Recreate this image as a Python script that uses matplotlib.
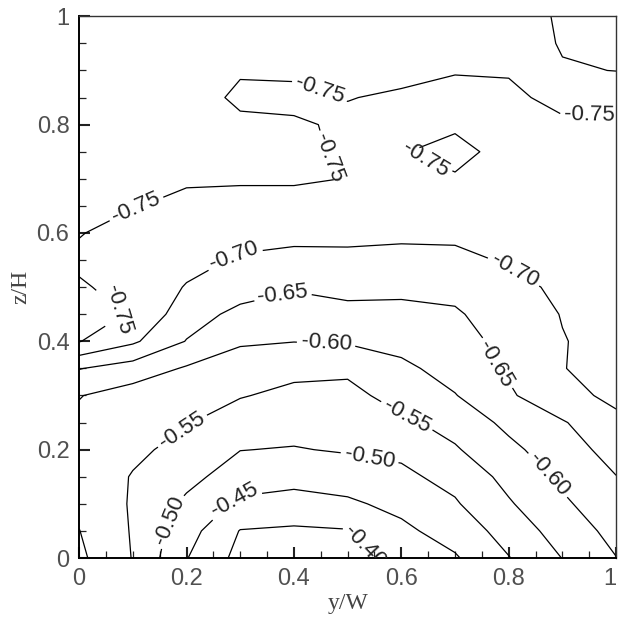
import numpy as np
import matplotlib
matplotlib.use('Agg')
import matplotlib.pyplot as plt
from matplotlib.ticker import MultipleLocator, FuncFormatter

# grid of the measurement plane (y/W across, z/H up)
y_pos = [0.0, 0.1, 0.2, 0.3, 0.4, 0.5, 0.6, 0.7, 0.8, 0.9, 1.0]
z_pos = [0.0, 0.05, 0.10, 0.15, 0.20, 0.25, 0.30, 0.35, 0.40, 0.45, 0.50,
         0.55, 0.60, 0.65, 0.70, 0.75, 0.80, 0.85, 0.90, 0.95, 1.0]

# pressure coefficient, one row per z/H level
cp_rows = [
    [-0.610, -0.548, -0.452, -0.385, -0.370, -0.375, -0.425, -0.445, -0.498, -0.551, -0.599],
    [-0.601, -0.546, -0.470, -0.398, -0.392, -0.397, -0.440, -0.470, -0.520, -0.572, -0.615],
    [-0.590, -0.545, -0.490, -0.440, -0.435, -0.443, -0.462, -0.495, -0.545, -0.592, -0.632],
    [-0.585, -0.547, -0.515, -0.475, -0.463, -0.470, -0.490, -0.515, -0.565, -0.610, -0.649],
    [-0.585, -0.560, -0.535, -0.501, -0.497, -0.505, -0.510, -0.545, -0.588, -0.628, -0.668],
    [-0.590, -0.573, -0.553, -0.525, -0.520, -0.523, -0.540, -0.568, -0.612, -0.645, -0.695],
    [-0.602, -0.578, -0.575, -0.553, -0.538, -0.535, -0.570, -0.598, -0.642, -0.693, -0.705],
    [-0.652, -0.628, -0.595, -0.575, -0.563, -0.560, -0.590, -0.618, -0.658, -0.699, -0.712],
    [-0.752, -0.708, -0.648, -0.606, -0.601, -0.605, -0.615, -0.632, -0.664, -0.698, -0.716],
    [-0.775, -0.745, -0.672, -0.637, -0.625, -0.635, -0.638, -0.645, -0.672, -0.702, -0.720],
    [-0.755, -0.735, -0.697, -0.672, -0.655, -0.665, -0.660, -0.662, -0.685, -0.710, -0.724],
    [-0.742, -0.725, -0.715, -0.695, -0.688, -0.688, -0.685, -0.688, -0.705, -0.718, -0.728],
    [-0.752, -0.735, -0.725, -0.715, -0.712, -0.713, -0.710, -0.710, -0.718, -0.725, -0.732],
    [-0.765, -0.752, -0.740, -0.735, -0.732, -0.732, -0.728, -0.728, -0.728, -0.732, -0.736],
    [-0.770, -0.765, -0.755, -0.755, -0.756, -0.749, -0.743, -0.748, -0.736, -0.738, -0.740],
    [-0.772, -0.770, -0.763, -0.765, -0.762, -0.742, -0.749, -0.756, -0.743, -0.742, -0.744],
    [-0.772, -0.771, -0.767, -0.758, -0.755, -0.744, -0.742, -0.747, -0.745, -0.746, -0.746],
    [-0.773, -0.772, -0.770, -0.742, -0.740, -0.751, -0.746, -0.745, -0.745, -0.757, -0.758],
    [-0.774, -0.773, -0.771, -0.754, -0.757, -0.762, -0.758, -0.751, -0.752, -0.795, -0.801],
    [-0.775, -0.774, -0.772, -0.765, -0.765, -0.767, -0.766, -0.762, -0.765, -0.805, -0.812],
    [-0.775, -0.775, -0.773, -0.770, -0.770, -0.772, -0.772, -0.768, -0.778, -0.806, -0.820],
]

levels = [-0.80, -0.75, -0.70, -0.65, -0.60, -0.55, -0.50, -0.45, -0.40]

# where the labels sit on the lines
label_spots = [
    (0.11, 0.635), (0.07, 0.455), (0.45, 0.868), (0.47, 0.74), (0.64, 0.725),
    (0.95, 0.826), (0.29, 0.555), (0.81, 0.53), (0.38, 0.485), (0.78, 0.36),
    (0.46, 0.395), (0.87, 0.15), (0.19, 0.238), (0.61, 0.262), (0.165, 0.07),
    (0.54, 0.18), (0.29, 0.105), (0.53, 0.02),
]

plt.rcParams['font.family'] = ['Liberation Sans', 'DejaVu Sans']

fig = plt.figure(figsize=(6.18, 6.17), dpi=100)
ax = fig.add_axes([0.128, 0.0956, 0.869, 0.878])

Y, Z = np.meshgrid(y_pos, z_pos)
cp = np.array(cp_rows)
cs = ax.contour(Y, Z, cp, levels=levels, colors='black', linewidths=0.9,
                linestyles='solid')
labels = ax.clabel(cs, fmt='%.2f', fontsize=16, inline=True,
                   inline_spacing=4, manual=label_spots)
for t in labels:
    t.set_color('#222222')

ax.set_xlim(0, 1)
ax.set_ylim(0, 1)
ax.set_xticks([0, 0.2, 0.4, 0.6, 0.8, 1.0])
ax.set_yticks([0, 0.2, 0.4, 0.6, 0.8, 1.0])
ax.xaxis.set_minor_locator(MultipleLocator(0.05))
ax.yaxis.set_minor_locator(MultipleLocator(0.05))
fmt = FuncFormatter(lambda v, p: '%g' % round(v, 2))
ax.xaxis.set_major_formatter(fmt)
ax.yaxis.set_major_formatter(fmt)
ax.tick_params(which='both', direction='in', top=False, right=False,
               labelsize=17, labelcolor='#505050', color='#222222')
ax.tick_params(which='major', length=8, width=1.5, pad=7)
ax.tick_params(which='minor', length=5, width=0.9)
for side in ['left', 'bottom']:
    ax.spines[side].set_linewidth(1.4)
for side in ['top', 'right']:
    ax.spines[side].set_linewidth(1.0)
    ax.spines[side].set_color('#333333')

# last x tick label sits at the figure edge; keep it inside
fig.canvas.draw()
for t in ax.get_xticklabels():
    if t.get_text() == '1':
        t.set_horizontalalignment('right')

ax.set_xlabel('y/W', family='Liberation Serif', fontsize=17, color='#444444', labelpad=2)
ax.set_ylabel('z/H', family='Liberation Serif', fontsize=17, color='#444444', labelpad=4)

plt.savefig('out.png', dpi=100)
